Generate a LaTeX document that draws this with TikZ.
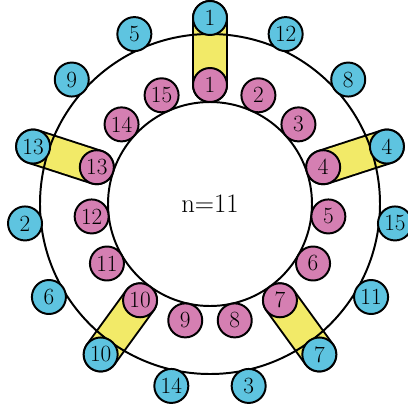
\documentclass[tikz,border=0pt]{standalone}
\usetikzlibrary{backgrounds}
\definecolor{RingBlue}{HTML}{5EC4E0}
\definecolor{RingPink}{HTML}{D57FB2}
\definecolor{BarYellow}{HTML}{F2EA68}
\tikzset{
  disc/.style={circle,draw=black,line width=1.4pt,minimum size=0.85cm,
               inner sep=0pt,font=\fontsize{16.5}{16.5}\selectfont},
  bar/.style={line width=1.4pt,double=BarYellow,double distance=22.7pt,
              line cap=round}
}
\begin{document}
\begin{tikzpicture}[x=0.025cm,y=0.025cm]
\useasboundingbox (-210,-199) rectangle (198,204);
% inner ring: numbered in order
\foreach \k in {1,...,15} {
  \node[disc,fill=RingPink] (p\k) at ({90-24*(\k-1)}:119) {\k};
}
% outer ring: steps of n
\foreach \lab [count=\j from 0] in {1,12,8,4,15,11,7,3,14,10,6,2,13,9,5} {
  \node[disc,fill=RingBlue] (b\lab) at ({90-24*\j}:186) {\lab};
}
\node[font=\fontsize{19}{19}\selectfont] (lab) at (0,0) {n=11};
\begin{scope}[on background layer]
  \foreach \k in {1,4,7,10,13} {
    \draw[bar] (p\k.center) -- (b\k.center);
  }
  \draw[line width=1.4pt] (0,0) circle (170);
  \draw[line width=1.4pt,fill=white] (0,0) circle (102);
\end{scope}
\end{tikzpicture}
\end{document}
